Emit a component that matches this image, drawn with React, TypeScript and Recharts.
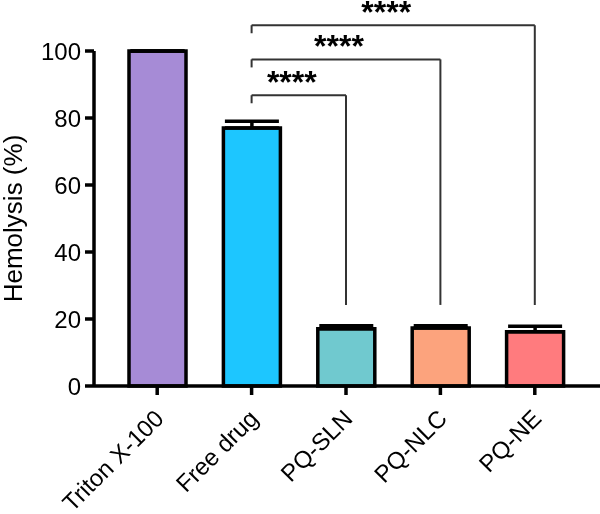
import {
  BarChart,
  Bar,
  XAxis,
  YAxis,
  Cell,
  ErrorBar,
  ReferenceLine,
} from "recharts";

const groups = ["Triton X-100", "Free drug", "PQ-SLN", "PQ-NLC", "PQ-NE"];
const hemolysis = [100, 77.0, 17.1, 17.3, 16.2];
const sem = [0, 2.0, 0.9, 0.7, 1.6];
const colors = ["#A68BD6", "#1DC6FF", "#70C9CF", "#FCA37D", "#FF7B7E"];
const yTicks = [0, 20, 40, 60, 80, 100];

// significance brackets: from "Free drug" to each formulation
const brackets = [
  { to: "PQ-SLN", y: 86.8, label: "****" },
  { to: "PQ-NLC", y: 97.5, label: "****" },
  { to: "PQ-NE", y: 107.7, label: "****" },
];
const legBottom = 24.2;
const leftLeg = 2.4;

const data = groups.map((g, i) => ({
  name: g,
  value: hemolysis[i],
  err: [0, sem[i]],
}));

const FONT = "'Liberation Sans', Arial, sans-serif";

const XTick = (props: any) => {
  const { x, y, payload } = props;
  return (
    <text
      transform={`translate(${x + 8},${y + 23}) rotate(-45)`}
      textAnchor="end"
      fontSize={24}
      fill="#000"
      fontFamily={FONT}
    >
      {payload.value}
    </text>
  );
};

const Stars = (props: any) => {
  const { viewBox, value } = props;
  return (
    <text
      x={viewBox.x + viewBox.width / 2 - 7}
      y={viewBox.y - 2}
      textAnchor="middle"
      fontSize={32}
      fontWeight="bold"
      fill="#000"
      fontFamily={FONT}
    >
      {value}
    </text>
  );
};

export default function App() {
  return (
    <div style={{ position: "fixed", left: 0, top: 0, fontFamily: FONT }}>
      <BarChart
        width={600}
        height={514}
        data={data}
        margin={{ top: 51, right: 0, bottom: 0, left: 0 }}
      >
        <XAxis
          dataKey="name"
          height={128}
          padding={{ left: 16, right: 18 }}
          axisLine={{ stroke: "#000", strokeWidth: 3.5 }}
          tickLine={{ stroke: "#000", strokeWidth: 3.5 }}
          tickSize={9}
          tick={<XTick />}
          interval={0}
        />
        <YAxis
          width={94}
          domain={[0, 100]}
          ticks={yTicks}
          axisLine={{ stroke: "#000", strokeWidth: 3.5 }}
          tickLine={{ stroke: "#000", strokeWidth: 3.5 }}
          tickSize={9}
          tickMargin={4}
          tick={{ fill: "#000", fontSize: 24, fontFamily: FONT }}
          label={{
            value: "Hemolysis (%)",
            angle: -90,
            position: "center",
            dx: -34,
            fontSize: 26,
            fill: "#000",
            fontFamily: FONT,
          }}
        />
        <Bar
          dataKey="value"
          barSize={57}
          stroke="#000"
          strokeWidth={3.5}
          isAnimationActive={false}
        >
          {data.map((d, i) => (
            <Cell key={d.name} fill={colors[i]} />
          ))}
          <ErrorBar
            dataKey="err"
            direction="y"
            width={27}
            stroke="#000"
            strokeWidth={3.5}
            isAnimationActive={false}
          />
        </Bar>
        {brackets.map((b) => (
          <ReferenceLine
            key={b.to + "h"}
            ifOverflow="visible"
            stroke="#333"
            strokeWidth={2}
            segment={[
              { x: "Free drug", y: b.y },
              { x: b.to, y: b.y },
            ]}
            label={<Stars value={b.label} />}
          />
        ))}
        {brackets.map((b) => (
          <ReferenceLine
            key={b.to + "l"}
            ifOverflow="visible"
            stroke="#333"
            strokeWidth={2}
            segment={[
              { x: "Free drug", y: b.y },
              { x: "Free drug", y: b.y - leftLeg },
            ]}
          />
        ))}
        {brackets.map((b) => (
          <ReferenceLine
            key={b.to + "r"}
            ifOverflow="visible"
            stroke="#333"
            strokeWidth={2}
            segment={[
              { x: b.to, y: b.y },
              { x: b.to, y: legBottom },
            ]}
          />
        ))}
      </BarChart>
    </div>
  );
}
